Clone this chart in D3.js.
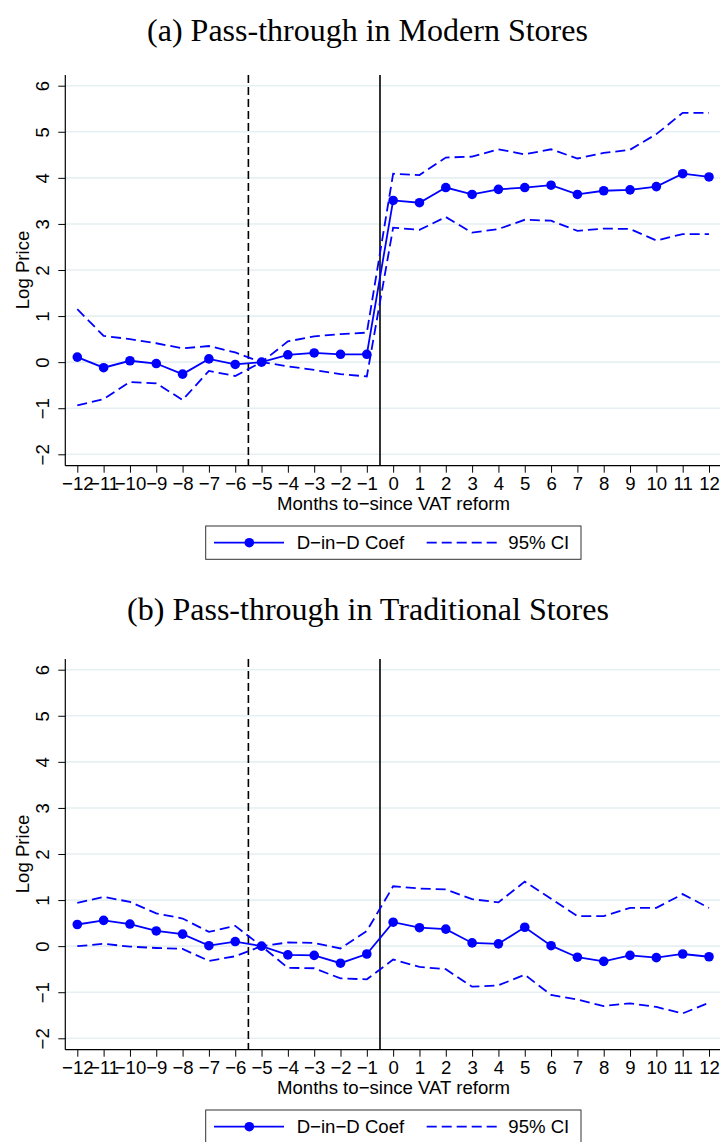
<!DOCTYPE html>
<html>
<head>
<meta charset="utf-8">
<script src="https://cdn.jsdelivr.net/npm/d3@7"></script>
<style>
  html, body { margin: 0; padding: 0; background: #fff; }
  svg { display: block; }
</style>
</head>
<body>
<svg id="chart" width="720" height="1142"></svg>
<script>
// Event-study months around the VAT reform
const months = [-12,-11,-10,-9,-8,-7,-6,-5,-4,-3,-2,-1,0,1,2,3,4,5,6,7,8,9,10,11,12];
const yTicks = [-2,-1,0,1,2,3,4,5,6];

// Panel (a): modern stores
const modernCoef = [0.11,-0.12,0.03,-0.03,-0.26,0.07,-0.05,0,0.16,0.20,0.17,0.17,3.51,3.46,3.79,3.64,3.75,3.79,3.84,3.64,3.72,3.74,3.81,4.09,4.02];
const modernHi   = [1.15,0.57,0.50,0.41,0.30,0.35,0.21,0,0.45,0.56,0.61,0.64,4.09,4.06,4.44,4.46,4.62,4.51,4.62,4.42,4.54,4.61,4.95,5.41,5.41];
const modernLo   = [-0.94,-0.80,-0.43,-0.46,-0.82,-0.19,-0.30,0,-0.09,-0.17,-0.26,-0.31,2.92,2.87,3.15,2.81,2.89,3.09,3.07,2.85,2.90,2.89,2.64,2.78,2.78];

// Panel (b): traditional stores
const tradCoef = [0.47,0.56,0.48,0.33,0.26,0.01,0.10,0,-0.19,-0.20,-0.37,-0.17,0.52,0.40,0.37,0.07,0.05,0.41,0.01,-0.24,-0.33,-0.20,-0.25,-0.17,-0.23];
const tradHi   = [0.94,1.07,0.96,0.71,0.60,0.31,0.44,0,0.08,0.07,-0.05,0.33,1.30,1.25,1.23,1.02,0.95,1.40,1.03,0.65,0.65,0.83,0.83,1.13,0.83];
const tradLo   = [0.00,0.05,-0.01,-0.04,-0.06,-0.32,-0.22,0,-0.47,-0.48,-0.70,-0.72,-0.29,-0.45,-0.50,-0.88,-0.85,-0.62,-1.06,-1.16,-1.30,-1.24,-1.32,-1.46,-1.23];

// Reference lines: anticipation window start and reform date
const refDashed = -5.5;
const refSolid = -0.5;

const titles = ["(a) Pass-through in Modern Stores", "(b) Pass-through in Traditional Stores"];
const xTitle = "Months to\u2212since VAT reform";
const yTitle = "Log Price";
const legendLabels = ["D\u2212in\u2212D Coef", "95% CI"];

const svg = d3.select("#chart");
const SANS = "'Liberation Sans', Arial, Helvetica, sans-serif";
const SERIF = "'Liberation Serif', 'Times New Roman', serif";
const BLUE = "#0000ff";
const FS = 18.6;
const fmt = d => String(d).replace("-", "\u2212");

const x = d3.scaleLinear().domain([-12, 12]).range([77.3, 709]);
const y = d3.scaleLinear().domain([-2, 6]).range([454.3, 85.7]);
const plotTop = 75, plotBottom = 465.7, plotLeft = 65.3, plotRight = 720;

function panel(g, coef, hi, lo) {
  // horizontal grid
  g.append("g").selectAll("line").data(yTicks).join("line")
    .attr("x1", plotLeft).attr("x2", plotRight)
    .attr("y1", d => y(d)).attr("y2", d => y(d))
    .attr("stroke", "#e6eff1").attr("stroke-width", 1.6);

  // y axis
  const ya = g.append("g").attr("transform", `translate(${plotLeft},0)`)
    .call(d3.axisLeft(y).tickValues(yTicks).tickSize(7).tickPadding(0).tickFormat(fmt));
  ya.select(".domain").remove();
  ya.selectAll(".tick line").attr("stroke", "#000").attr("stroke-width", 1);
  ya.selectAll(".tick text")
    .attr("x", null).attr("dy", null)
    .attr("transform", "translate(-16,0) rotate(-90)")
    .attr("text-anchor", "middle")
    .attr("font-family", SANS).attr("font-size", FS).attr("fill", "#000");
  g.append("line").attr("x1", plotLeft).attr("x2", plotLeft)
    .attr("y1", plotTop).attr("y2", plotBottom).attr("stroke", "#000").attr("stroke-width", 1.2);

  // x axis
  const xa = g.append("g").attr("transform", `translate(0,${plotBottom})`)
    .call(d3.axisBottom(x).tickValues(months).tickSize(7).tickPadding(4).tickFormat(fmt));
  xa.select(".domain").remove();
  xa.selectAll(".tick line").attr("stroke", "#000").attr("stroke-width", 1);
  xa.selectAll(".tick text").attr("dy", null).attr("y", 24.3)
    .attr("font-family", SANS).attr("font-size", FS).attr("fill", "#000");
  g.append("line").attr("x1", plotLeft).attr("x2", plotRight)
    .attr("y1", plotBottom).attr("y2", plotBottom).attr("stroke", "#000").attr("stroke-width", 1.2);

  // axis titles
  g.append("text").attr("x", 393.5).attr("y", 510)
    .attr("text-anchor", "middle").attr("font-family", SANS).attr("font-size", FS)
    .text(xTitle);
  g.append("text").attr("transform", `translate(29,${y(2)}) rotate(-90)`)
    .attr("text-anchor", "middle").attr("font-family", SANS).attr("font-size", FS)
    .text(yTitle);

  // reference lines
  g.append("line").attr("x1", x(refDashed)).attr("x2", x(refDashed))
    .attr("y1", plotTop).attr("y2", plotBottom)
    .attr("stroke", "#000").attr("stroke-width", 1.6).attr("stroke-dasharray", "8,4");
  g.append("line").attr("x1", x(refSolid)).attr("x2", x(refSolid))
    .attr("y1", plotTop).attr("y2", plotBottom)
    .attr("stroke", "#000").attr("stroke-width", 1.6);

  const line = d3.line().x((d, i) => x(months[i])).y(d => y(d));

  // confidence band edges
  [hi, lo].forEach(s => {
    g.append("path").datum(s).attr("d", line)
      .attr("fill", "none").attr("stroke", BLUE).attr("stroke-width", 1.8)
      .attr("stroke-dasharray", "10,5");
  });

  // coefficient line and markers
  g.append("path").datum(coef).attr("d", line)
    .attr("fill", "none").attr("stroke", BLUE).attr("stroke-width", 1.8);
  g.append("g").selectAll("circle").data(coef).join("circle")
    .attr("cx", (d, i) => x(months[i])).attr("cy", d => y(d))
    .attr("r", 4.8).attr("fill", BLUE);

  // legend
  const lg = g.append("g");
  lg.append("rect").attr("x", 205.7).attr("y", 526).attr("width", 375.3).attr("height", 33.3)
    .attr("fill", "#fff").attr("stroke", "#333").attr("stroke-width", 1);
  lg.append("line").attr("x1", 214).attr("x2", 284).attr("y1", 542.7).attr("y2", 542.7)
    .attr("stroke", BLUE).attr("stroke-width", 1.8);
  lg.append("circle").attr("cx", 249.3).attr("cy", 542.7).attr("r", 4.8).attr("fill", BLUE);
  lg.append("text").attr("x", 296.7).attr("y", 548.8)
    .attr("font-family", SANS).attr("font-size", FS).text(legendLabels[0]);
  lg.append("line").attr("x1", 426.7).attr("x2", 496.7).attr("y1", 542.7).attr("y2", 542.7)
    .attr("stroke", BLUE).attr("stroke-width", 1.8).attr("stroke-dasharray", "10,5");
  lg.append("text").attr("x", 508.3).attr("y", 548.8)
    .attr("font-family", SANS).attr("font-size", FS).text(legendLabels[1]);
}

// panel titles
svg.append("text").attr("x", 367.5).attr("y", 40.5).attr("text-anchor", "middle")
  .attr("font-family", SERIF).attr("font-size", 32).text(titles[0]);
svg.append("text").attr("x", 368).attr("y", 619.5).attr("text-anchor", "middle")
  .attr("font-family", SERIF).attr("font-size", 32).text(titles[1]);

panel(svg.append("g"), modernCoef, modernHi, modernLo);
panel(svg.append("g").attr("transform", "translate(0,584)"), tradCoef, tradHi, tradLo);
</script>
</body>
</html>
